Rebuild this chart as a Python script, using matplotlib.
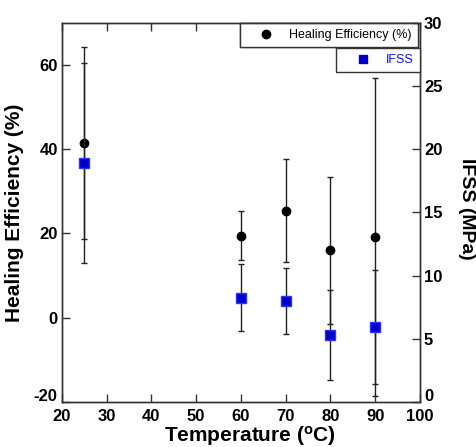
import matplotlib
matplotlib.use("Agg")
import matplotlib.pyplot as plt
from matplotlib.lines import Line2D
from matplotlib import transforms
import numpy as np

plt.rcParams['font.family'] = ['Liberation Sans', 'DejaVu Sans']
plt.rcParams['mathtext.fontset'] = 'custom'
plt.rcParams['mathtext.rm'] = 'Liberation Sans'
plt.rcParams['mathtext.bf'] = 'Liberation Sans:bold'
plt.rcParams['axes.unicode_minus'] = False

# data
temps = [25, 60, 70, 80, 90]
heal_eff = [41.4, 19.4, 25.4, 16.0, 19.2]
heal_err = [22.8, 5.8, 12.3, 17.4, 37.7]
ifss = [18.9, 8.25, 7.97, 5.3, 5.94]
ifss_err = [7.9, 2.65, 2.6, 3.55, 4.5]

fig = plt.figure(figsize=(4.76, 4.47), dpi=100)
ax = fig.add_axes([0.130, 0.101, 0.752, 0.848])
ax2 = ax.twinx()

spine_col = '#333333'
err_col = '#222222'
blue = '#0000cc'

ax.errorbar(temps, heal_eff, yerr=heal_err, fmt='o', color='black',
            ms=6, ecolor=err_col, elinewidth=1, capsize=2.5, capthick=1, zorder=3)
ax2.errorbar(temps, ifss, yerr=ifss_err, fmt='s', color=blue,
             mfc=blue, mec='#3030ff', ms=6.5, ecolor=err_col,
             elinewidth=1, capsize=2.5, capthick=1, zorder=3)

ax.set_xlim(20, 100)
ax.set_ylim(-20, 70)
ax2.set_ylim(0, 30)
ax.set_xticks(np.arange(20, 101, 10))
ax.set_yticks([-20, 0, 20, 40, 60])
ax2.set_yticks([0, 5, 10, 15, 20, 25, 30])

for a in (ax, ax2):
    for s in a.spines.values():
        s.set_color(spine_col)
        s.set_linewidth(1.0)

ax.tick_params(axis='x', direction='in', top=True, length=6, width=1,
               color=spine_col, labelsize=12, pad=5)
ax.tick_params(axis='y', direction='in', right=False, length=6, width=1,
               color=spine_col, labelsize=12, pad=3)
ax2.tick_params(axis='y', direction='in', length=6, width=1,
                color=spine_col, labelsize=12, pad=3)
for lab in ax.get_xticklabels() + ax.get_yticklabels() + ax2.get_yticklabels():
    lab.set_fontweight('bold')

# lowest labels sit a bit above their ticks, like in the original
up = transforms.ScaledTranslation(0, 5 / 72, fig.dpi_scale_trans)
for t in (ax.yaxis.get_major_ticks()[0], ax2.yaxis.get_major_ticks()[0]):
    t.label1.set_transform(t.label1.get_transform() + up)
    t.label2.set_transform(t.label2.get_transform() + up)

ax.set_xlabel(r'Temperature ($\mathbf{^{o}}$C)', fontsize=15, fontweight='bold', labelpad=0)
ax.xaxis.set_label_coords(0.525, -0.058)
ax.set_ylabel('Healing Efficiency (%)', fontsize=15, fontweight='bold')
ax.yaxis.set_label_coords(-0.105, 0.5)
ax2.set_ylabel('IFSS (MPa)', fontsize=14, fontweight='bold', rotation=270, va='center')
ax2.yaxis.set_label_coords(1.13, 0.51)

hnd1 = Line2D([], [], ls='none', marker='o', color='black', ms=6)
hnd2 = Line2D([], [], ls='none', marker='s', color=blue, ms=5.5)
leg_kw = dict(borderaxespad=0, fancybox=False, framealpha=1, edgecolor=spine_col,
              fontsize=9, handletextpad=0.15, borderpad=0.5, handlelength=3.3)
leg1 = ax.legend([hnd1], ['Healing Efficiency (%)'], loc='upper right',
                 bbox_to_anchor=(0.994, 1.0), **leg_kw)
leg1.get_frame().set_linewidth(1.0)
ax.add_artist(leg1)
leg2 = ax2.legend([hnd2], ['IFSS'], loc='upper right',
                  bbox_to_anchor=(1.0, 0.934), **leg_kw)
leg2.get_frame().set_linewidth(1.0)
for t in leg2.get_texts():
    t.set_color('#1010ee')

fig.savefig('out.png', dpi=100)
